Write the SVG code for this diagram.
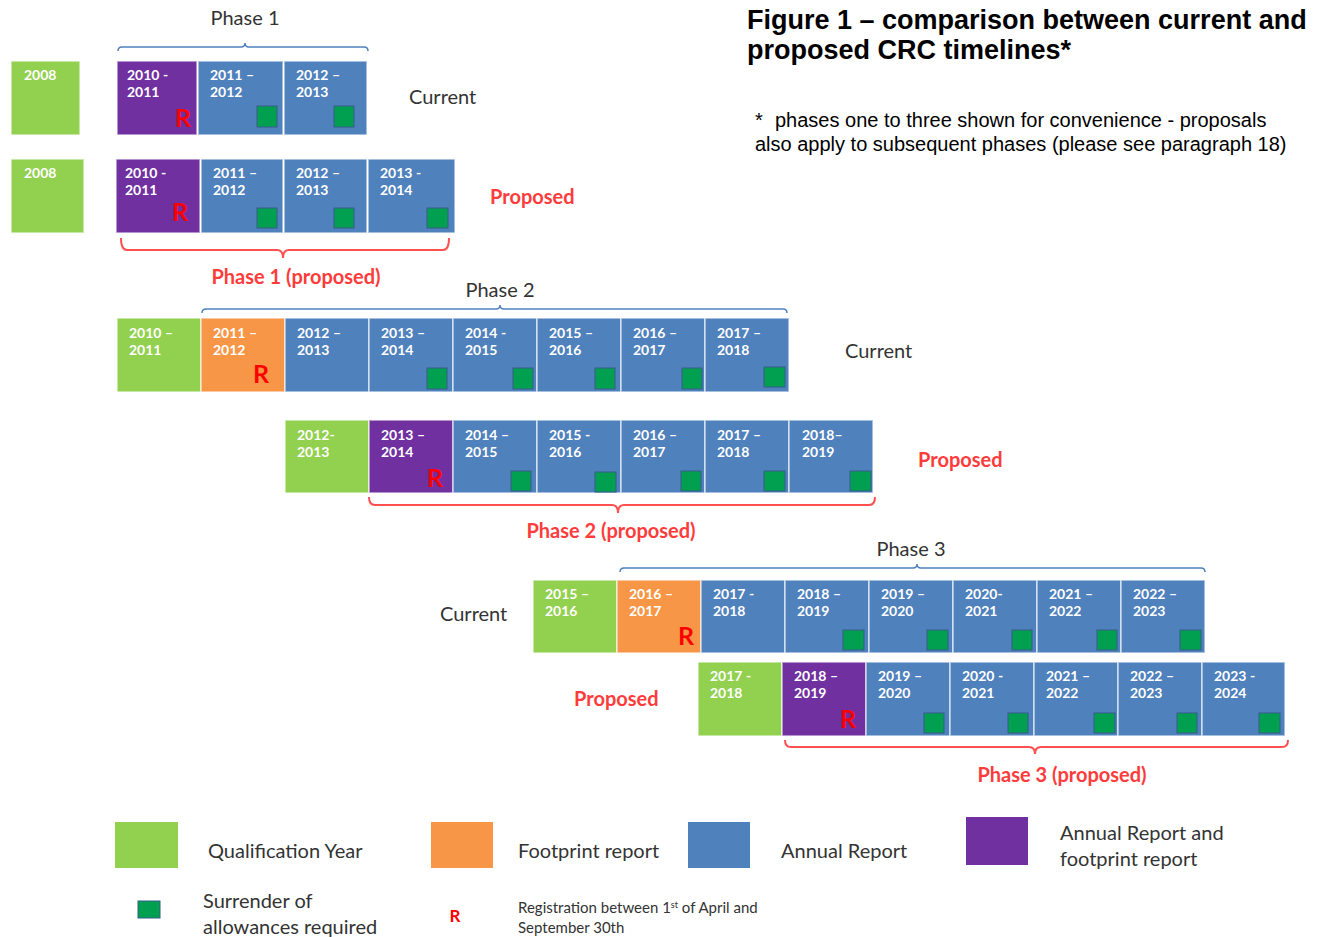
<svg xmlns="http://www.w3.org/2000/svg" width="1318" height="937" viewBox="0 0 1318 937">
<style>
.c{stroke:#ffffff;stroke-opacity:0.65;stroke-width:1.5}
.gr{fill:#92D050}.pu{fill:#7030A0}.bl{fill:#4F81BD}.or{fill:#F79646}
.sq{fill:#00A050;stroke:#385D8A;stroke-width:1}
.t{font-family:Lato,"Liberation Sans",sans-serif;font-weight:bold;font-size:14px;fill:#ffffff}
.r{font-family:Lato,"Liberation Sans",sans-serif;font-weight:bold;font-size:25px;fill:#FF0000;text-anchor:end}
.lab{font-family:Lato,"Liberation Sans",sans-serif;font-size:20px;fill:#333333}
.red{font-family:Lato,"Liberation Sans",sans-serif;font-weight:bold;font-size:20px;fill:#FF3B3B}
.redp{font-family:Lato,"Liberation Sans",sans-serif;font-weight:bold;font-size:20px;fill:#FF3B3B}
.leg{font-family:Lato,"Liberation Sans",sans-serif;font-size:20px;fill:#333333}
.small{font-family:Lato,"Liberation Sans",sans-serif;font-size:15px;fill:#333333}
.title{font-family:"Liberation Sans",Arial,sans-serif;font-weight:bold;font-size:27px;fill:#000000}
.note{font-family:"Liberation Sans",Arial,sans-serif;font-size:20px;fill:#000000}
.bb{fill:none;stroke:#4F81BD;stroke-width:1.5}
.rb{fill:none;stroke:#FF5050;stroke-width:2}
</style>

<g id="title">
<text class="title" x="747" y="29">Figure 1 – comparison between current and</text>
<text class="title" x="747" y="59">proposed CRC timelines*</text>
<text class="note" x="755" y="127">*</text>
<text class="note" x="775" y="127">phases one to three shown for convenience - proposals</text>
<text class="note" x="755" y="151">also apply to subsequent phases (please see paragraph 18)</text>
</g>

<g id="brackets">
<path class="bb" d="M118,51 Q118,47 122,47 H241 Q245,47 245,43 Q245,47 249,47 H364 Q368,47 368,51"/>
<path class="rb" d="M121,238 Q121,250 127,250 H277 Q283,250 283,258 Q283,250 289,250 H443 Q449,250 449,238"/>
<path class="bb" d="M202,313 Q202,309 206,309 H496 Q500,309 500,305 Q500,309 504,309 H783 Q787,309 787,313"/>
<path class="rb" d="M369,497 Q369,505 375,505 H612 Q618,505 618,513 Q618,505 624,505 H869 Q875,505 875,497"/>
<path class="bb" d="M620,572 Q620,568 624,568 H913 Q917,568 917,564 Q917,568 921,568 H1201 Q1205,568 1205,572"/>
<path class="rb" d="M785,740 Q785,747 791,747 H1029 Q1035,747 1035,754 Q1035,747 1041,747 H1282 Q1288,747 1288,740"/>
</g>

<g id="labels">
<text class="lab" x="245" y="25" text-anchor="middle">Phase 1</text>
<text class="lab" x="409" y="104">Current</text>
<text class="red" x="490" y="204">Proposed</text>
<text class="redp" x="296" y="284" text-anchor="middle">Phase 1 (proposed)</text>
<text class="lab" x="500" y="297" text-anchor="middle">Phase 2</text>
<text class="lab" x="845" y="358">Current</text>
<text class="red" x="918" y="467">Proposed</text>
<text class="redp" x="611" y="538" text-anchor="middle">Phase 2 (proposed)</text>
<text class="lab" x="911" y="556" text-anchor="middle">Phase 3</text>
<text class="lab" x="440" y="621">Current</text>
<text class="red" x="574" y="706">Proposed</text>
<text class="redp" x="1062" y="782" text-anchor="middle">Phase 3 (proposed)</text>
</g>

<!-- Row 1: current phase 1 -->
<g id="r1c0"><rect class="c gr" x="11" y="61" width="69" height="74"/><text class="t" x="24" y="80">2008</text></g>
<g id="r1c1"><rect class="c pu" x="117" y="61" width="80" height="74"/><text class="t" x="127" y="80">2010  -</text><text class="t" x="127" y="97">2011</text><text class="r" x="191" y="127">R</text></g>
<g id="r1c2"><rect class="c bl" x="198" y="61" width="85" height="74"/><text class="t" x="210" y="80">2011 –</text><text class="t" x="210" y="97">2012</text><rect class="sq" x="257" y="106" width="20" height="21"/></g>
<g id="r1c3"><rect class="c bl" x="284" y="61" width="83" height="74"/><text class="t" x="296" y="80">2012 –</text><text class="t" x="296" y="97">2013</text><rect class="sq" x="334" y="106" width="20" height="21"/></g>

<!-- Row 2: proposed phase 1 -->
<g id="r2c0"><rect class="c gr" x="11" y="159" width="73" height="74"/><text class="t" x="24" y="178">2008</text></g>
<g id="r2c1"><rect class="c pu" x="116" y="159" width="84" height="74"/><text class="t" x="125" y="178">2010  -</text><text class="t" x="125" y="195">2011</text><text class="r" x="188" y="221">R</text></g>
<g id="r2c2"><rect class="c bl" x="201" y="159" width="82" height="74"/><text class="t" x="213" y="178">2011 –</text><text class="t" x="213" y="195">2012</text><rect class="sq" x="257" y="208" width="20" height="20"/></g>
<g id="r2c3"><rect class="c bl" x="284" y="159" width="83" height="74"/><text class="t" x="296" y="178">2012 –</text><text class="t" x="296" y="195">2013</text><rect class="sq" x="334" y="208" width="20" height="20"/></g>
<g id="r2c4"><rect class="c bl" x="368" y="159" width="87" height="74"/><text class="t" x="380" y="178">2013 -</text><text class="t" x="380" y="195">2014</text><rect class="sq" x="427" y="208" width="21" height="20"/></g>

<!-- Row 3: current phase 2 -->
<g id="r3c0"><rect class="c gr" x="117" y="318" width="84" height="74"/><text class="t" x="129" y="338">2010 –</text><text class="t" x="129" y="355">2011</text></g>
<g id="r3c1"><rect class="c or" x="201" y="318" width="84" height="74"/><text class="t" x="213" y="338">2011 –</text><text class="t" x="213" y="355">2012</text><text class="r" x="269" y="383">R</text></g>
<g id="r3c2"><rect class="c bl" x="285" y="318" width="84" height="74"/><text class="t" x="297" y="338">2012 –</text><text class="t" x="297" y="355">2013</text></g>
<g id="r3c3"><rect class="c bl" x="369" y="318" width="84" height="74"/><text class="t" x="381" y="338">2013 –</text><text class="t" x="381" y="355">2014</text><rect class="sq" x="427" y="368" width="20" height="21"/></g>
<g id="r3c4"><rect class="c bl" x="453" y="318" width="84" height="74"/><text class="t" x="465" y="338">2014  -</text><text class="t" x="465" y="355">2015</text><rect class="sq" x="513" y="368" width="20" height="21"/></g>
<g id="r3c5"><rect class="c bl" x="537" y="318" width="84" height="74"/><text class="t" x="549" y="338">2015 –</text><text class="t" x="549" y="355">2016</text><rect class="sq" x="595" y="368" width="20" height="21"/></g>
<g id="r3c6"><rect class="c bl" x="621" y="318" width="84" height="74"/><text class="t" x="633" y="338">2016 –</text><text class="t" x="633" y="355">2017</text><rect class="sq" x="682" y="368" width="20" height="21"/></g>
<g id="r3c7"><rect class="c bl" x="705" y="318" width="84" height="74"/><text class="t" x="717" y="338">2017 –</text><text class="t" x="717" y="355">2018</text><rect class="sq" x="764" y="367" width="21" height="20"/></g>

<!-- Row 4: proposed phase 2 -->
<g id="r4c0"><rect class="c gr" x="285" y="420" width="84" height="73"/><text class="t" x="297" y="440">2012-</text><text class="t" x="297" y="457">2013</text></g>
<g id="r4c1"><rect class="c pu" x="369" y="420" width="84" height="73"/><text class="t" x="381" y="440">2013 –</text><text class="t" x="381" y="457">2014</text><text class="r" x="443" y="487">R</text></g>
<g id="r4c2"><rect class="c bl" x="453" y="420" width="84" height="73"/><text class="t" x="465" y="440">2014 –</text><text class="t" x="465" y="457">2015</text><rect class="sq" x="511" y="471" width="20" height="20"/></g>
<g id="r4c3"><rect class="c bl" x="537" y="420" width="84" height="73"/><text class="t" x="549" y="440">2015 -</text><text class="t" x="549" y="457">2016</text><rect class="sq" x="595" y="472" width="21" height="20"/></g>
<g id="r4c4"><rect class="c bl" x="621" y="420" width="84" height="73"/><text class="t" x="633" y="440">2016 –</text><text class="t" x="633" y="457">2017</text><rect class="sq" x="681" y="471" width="20" height="20"/></g>
<g id="r4c5"><rect class="c bl" x="705" y="420" width="84" height="73"/><text class="t" x="717" y="440">2017 –</text><text class="t" x="717" y="457">2018</text><rect class="sq" x="764" y="471" width="21" height="20"/></g>
<g id="r4c6"><rect class="c bl" x="789" y="420" width="84" height="73"/><text class="t" x="802" y="440">2018–</text><text class="t" x="802" y="457">2019</text><rect class="sq" x="850" y="471" width="21" height="20"/></g>

<!-- Row 5: current phase 3 -->
<g id="r5c0"><rect class="c gr" x="533" y="580" width="84" height="73"/><text class="t" x="545" y="599">2015 –</text><text class="t" x="545" y="616">2016</text></g>
<g id="r5c1"><rect class="c or" x="617" y="580" width="84" height="73"/><text class="t" x="629" y="599">2016 –</text><text class="t" x="629" y="616">2017</text><text class="r" x="694" y="645">R</text></g>
<g id="r5c2"><rect class="c bl" x="701" y="580" width="84" height="73"/><text class="t" x="713" y="599">2017 -</text><text class="t" x="713" y="616">2018</text></g>
<g id="r5c3"><rect class="c bl" x="785" y="580" width="84" height="73"/><text class="t" x="797" y="599">2018 –</text><text class="t" x="797" y="616">2019</text><rect class="sq" x="843" y="630" width="21" height="20"/></g>
<g id="r5c4"><rect class="c bl" x="869" y="580" width="84" height="73"/><text class="t" x="881" y="599">2019 –</text><text class="t" x="881" y="616">2020</text><rect class="sq" x="927" y="630" width="21" height="20"/></g>
<g id="r5c5"><rect class="c bl" x="953" y="580" width="84" height="73"/><text class="t" x="965" y="599">2020-</text><text class="t" x="965" y="616">2021</text><rect class="sq" x="1012" y="630" width="20" height="20"/></g>
<g id="r5c6"><rect class="c bl" x="1037" y="580" width="84" height="73"/><text class="t" x="1049" y="599">2021 –</text><text class="t" x="1049" y="616">2022</text><rect class="sq" x="1097" y="630" width="20" height="20"/></g>
<g id="r5c7"><rect class="c bl" x="1121" y="580" width="84" height="73"/><text class="t" x="1133" y="599">2022 –</text><text class="t" x="1133" y="616">2023</text><rect class="sq" x="1180" y="630" width="21" height="20"/></g>

<!-- Row 6: proposed phase 3 -->
<g id="r6c0"><rect class="c gr" x="698" y="662" width="84" height="74"/><text class="t" x="710" y="681">2017 -</text><text class="t" x="710" y="698">2018</text></g>
<g id="r6c1"><rect class="c pu" x="782" y="662" width="84" height="74"/><text class="t" x="794" y="681">2018 –</text><text class="t" x="794" y="698">2019</text><text class="r" x="856" y="728">R</text></g>
<g id="r6c2"><rect class="c bl" x="866" y="662" width="84" height="74"/><text class="t" x="878" y="681">2019 –</text><text class="t" x="878" y="698">2020</text><rect class="sq" x="924" y="713" width="20" height="20"/></g>
<g id="r6c3"><rect class="c bl" x="950" y="662" width="84" height="74"/><text class="t" x="962" y="681">2020 -</text><text class="t" x="962" y="698">2021</text><rect class="sq" x="1008" y="713" width="20" height="20"/></g>
<g id="r6c4"><rect class="c bl" x="1034" y="662" width="84" height="74"/><text class="t" x="1046" y="681">2021 –</text><text class="t" x="1046" y="698">2022</text><rect class="sq" x="1094" y="713" width="21" height="20"/></g>
<g id="r6c5"><rect class="c bl" x="1118" y="662" width="84" height="74"/><text class="t" x="1130" y="681">2022 –</text><text class="t" x="1130" y="698">2023</text><rect class="sq" x="1177" y="713" width="20" height="20"/></g>
<g id="r6c6"><rect class="c bl" x="1202" y="662" width="83" height="74"/><text class="t" x="1214" y="681">2023 -</text><text class="t" x="1214" y="698">2024</text><rect class="sq" x="1259" y="713" width="21" height="20"/></g>

<!-- Legend -->
<g id="legend-qualification"><rect class="gr" x="115" y="822" width="63" height="46"/><text class="leg" x="208" y="858">Qualification Year</text></g>
<g id="legend-footprint"><rect class="or" x="431" y="822" width="62" height="46"/><text class="leg" x="518" y="858">Footprint report</text></g>
<g id="legend-annual"><rect class="bl" x="688" y="822" width="62" height="46"/><text class="leg" x="781" y="858">Annual Report</text></g>
<g id="legend-both"><rect class="pu" x="966" y="817" width="62" height="48"/><text class="leg" x="1060" y="840">Annual Report and</text><text class="leg" x="1060" y="866">footprint report</text></g>
<g id="legend-surrender"><rect class="sq" x="138" y="901" width="22" height="17"/><text class="leg" x="203" y="908">Surrender of</text><text class="leg" x="203" y="934">allowances required</text></g>
<g id="legend-registration"><text x="455" y="922" text-anchor="middle" font-family="Lato, 'Liberation Sans', sans-serif" font-weight="bold" font-size="17" fill="#FF0000">R</text><text class="small" x="518" y="913">Registration between 1<tspan font-size="9" dy="-5">st</tspan><tspan dy="5"> of April and</tspan></text><text class="small" x="518" y="933">September 30th</text></g>
</svg>
